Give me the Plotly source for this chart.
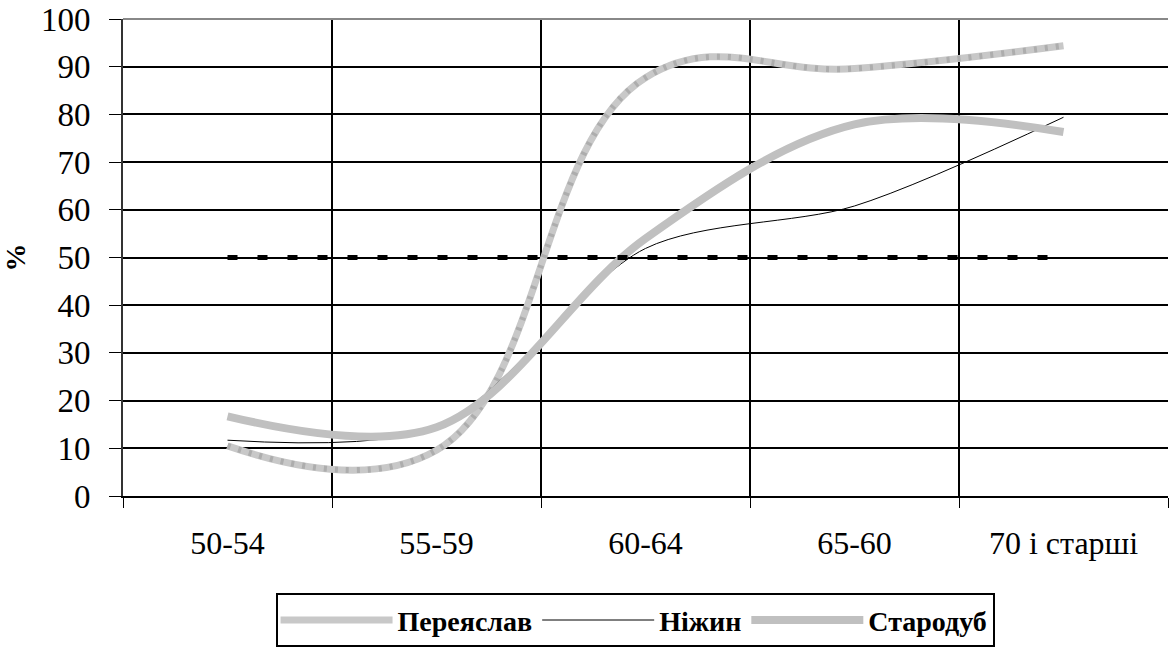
import plotly.graph_objects as go

categories = ["50-54", "55-59", "60-64", "65-60", "70 і старші"]
pereyaslav = [10.5, 9.6, 87.7, 89.6, 94.4]
nizhyn = [11.7, 14.5, 51.9, 60.8, 79.4]
starodub = [16.7, 14.4, 54.0, 77.9, 76.3]
threshold = [50, 50, 50, 50, 50]

FONT = "Liberation Serif, Times New Roman, serif"

fig = go.Figure()
fig.add_trace(go.Scatter(x=categories, y=pereyaslav, name="Переяслав", mode="lines",
                         line=dict(color="#c8c8c8", width=7, shape="spline", smoothing=1.2),
                         legendgroup="p"))
fig.add_trace(go.Scatter(x=categories, y=pereyaslav, name="Переяслав", mode="lines",
                         line=dict(color="#adadad", width=6, shape="spline", smoothing=1.2,
                                   dash="3px,8px"),
                         legendgroup="p", showlegend=False, hoverinfo="skip"))
fig.add_trace(go.Scatter(x=categories, y=nizhyn, name="Ніжин", mode="lines",
                         line=dict(color="black", width=1, shape="spline", smoothing=0.85)))
fig.add_trace(go.Scatter(x=categories, y=starodub, name="Стародуб", mode="lines",
                         line=dict(color="#c0c0c0", width=8, shape="spline", smoothing=1.0)))
fig.add_trace(go.Scatter(x=categories, y=threshold, name="50%", mode="lines",
                         line=dict(color="black", width=5, dash="10px,20px"),
                         showlegend=False))

fig.update_layout(
    width=1169, height=648,
    margin=dict(l=123, r=1, t=19, b=149),
    paper_bgcolor="white", plot_bgcolor="white",
    font=dict(family=FONT, color="black"),
    showlegend=True,
    legend=dict(orientation="h", x=0.49, xanchor="center", y=-0.204, yanchor="top",
                bgcolor="white", bordercolor="black", borderwidth=2,
                font=dict(family=FONT, size=28, color="black", weight="bold"),
                itemwidth=112, tracegroupgap=0),
    xaxis=dict(type="category", tickson="boundaries", range=[-0.5, 4.5],
               ticks="outside", ticklen=10, tickwidth=1, tickcolor="black",
               showgrid=True, gridcolor="black", gridwidth=2,
               showline=True, linecolor="black", linewidth=2, automargin=False,
               ticklabelstandoff=18, ticklabeloverflow="allow",
               tickfont=dict(family=FONT, size=32, color="black")),
    yaxis=dict(range=[0, 100], dtick=10, tick0=0,
               ticks="outside", ticklen=12, tickwidth=1, tickcolor="black",
               showgrid=True, gridcolor="black", gridwidth=2, zeroline=False,
               showline=True, linecolor="#333333", linewidth=2, automargin=False,
               ticklabelstandoff=12, ticklabeloverflow="allow",
               tickfont=dict(family=FONT, size=33, color="black"),
               title=dict(text="%", font=dict(family=FONT, size=28, color="black", weight="bold"),
                          standoff=28)),
    shapes=[dict(type="line", xref="paper", yref="paper", x0=0, x1=1, y0=1, y1=1,
                 line=dict(color="#888888", width=2))],
)

fig.write_html("out.html", config={"displayModeBar": False},
               post_script="document.body.style.margin='0';")
